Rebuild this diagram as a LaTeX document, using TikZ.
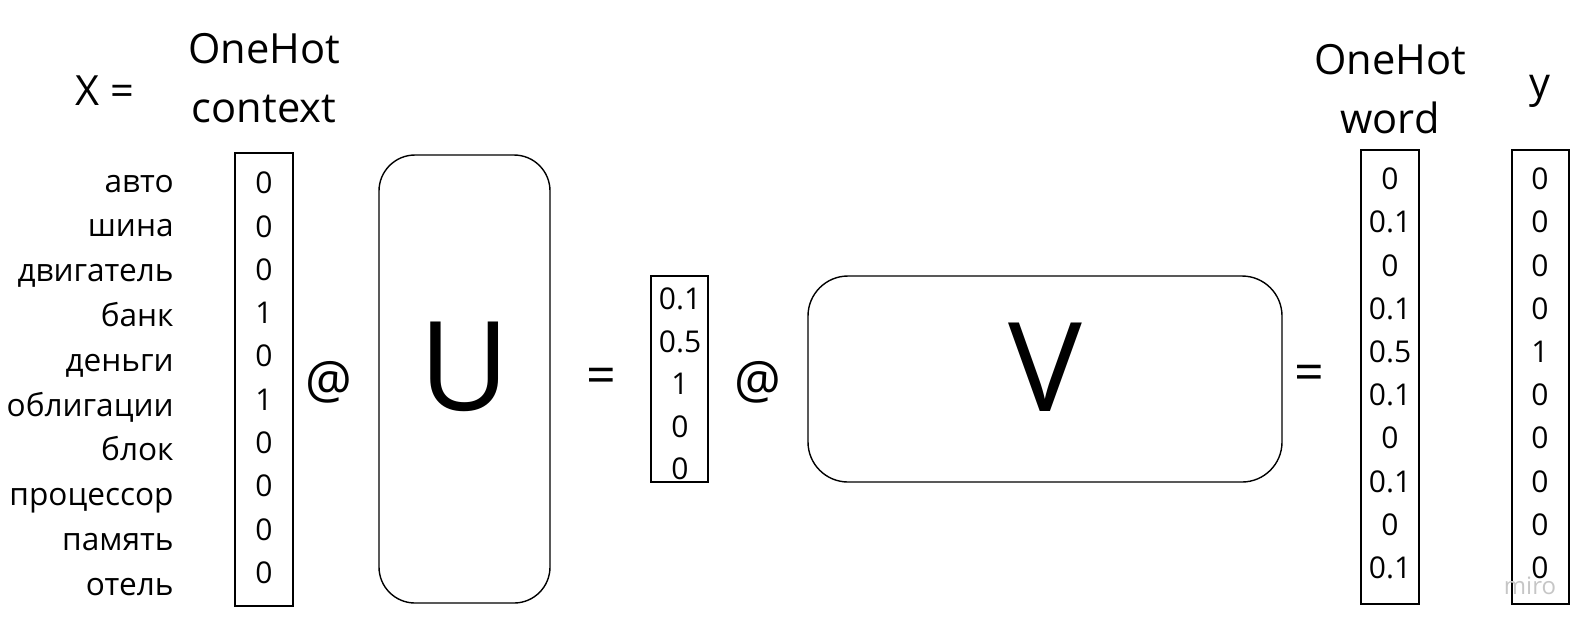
\documentclass[tikz,border=0pt]{standalone}
\usepackage{fontspec}
\setmainfont{Open Sans}
\usetikzlibrary{positioning}

\tikzset{
  vecbox/.style={draw, line width=0.7pt, inner sep=0pt, minimum width=29pt},
  matbox/.style={draw, line width=0.7pt, rounded corners=18pt, inner sep=0pt},
  cell/.style={font=\fontsize{15}{16}\selectfont, inner sep=0pt},
  word/.style={font=\fontsize{15.8}{17}\selectfont, anchor=base east, inner sep=0pt},
  head/.style={font=\fontsize{20.8}{29.5}\selectfont, align=center, inner sep=0pt},
  oper/.style={font=\fontsize{26}{28}\selectfont, inner sep=0pt},
  big/.style={font=\fontsize{62}{64}\selectfont, inner sep=0pt}
}

\begin{document}
\begin{tikzpicture}[x=0.5pt, y=-0.5pt]
  \useasboundingbox (0,0) rectangle (1589,629);

  % headings
  \node[head, anchor=base] (xeq) at (105,105) {X =};
  \node[head, anchor=base] (hctx) at (264,122) {OneHot\\context};
  \node[head, anchor=base] (hword) at (1390,133) {OneHot\\word};
  \node[head, anchor=base] (hy) at (1540,97) {y};

  % context vector with words
  \node[vecbox, minimum height=226.5pt] (xbox) at (264,379.5) {};
  \foreach \w [count=\i from 0] in {авто, шина, двигатель, банк, деньги,
      облигации, блок, процессор, память, отель}
    \node[word] (lbl\i) at (174,192+44.8*\i) {\w};
  \foreach \v [count=\i from 0] in {0,0,0,1,0,1,0,0,0,0}
    \node[cell] (xv\i) at (264,183+43.3*\i) {\v};

  \node[oper] (at1) at (329,382) {@};

  % matrix U
  \node[matbox, minimum width=85.5pt, minimum height=224pt] (ubox) at (464.5,379) {};
  \node[big] (ulbl) at (464.5,367) {U};

  \node[oper] (eq1) at (601,381) {=};

  % hidden vector
  \node[vecbox, minimum width=28.5pt, minimum height=103pt] (hbox) at (679.5,379) {};
  \foreach \v [count=\i from 0] in {0.1,0.5,1,0,0}
    \node[cell] (hv\i) at (680,299+42.5*\i) {\v};

  \node[oper] (at2) at (758,382) {@};

  % matrix V
  \node[matbox, rounded corners=20pt, minimum width=237pt, minimum height=103pt] (vbox) at (1045,379) {};
  \node[big] (vlbl) at (1045,367) {V};

  \node[oper] (eq2) at (1309,378) {=};

  % output vector and target
  \node[vecbox, minimum height=227pt] (wbox) at (1390,377) {};
  \foreach \v [count=\i from 0] in {0,0.1,0,0.1,0.5,0.1,0,0.1,0,0.1}
    \node[cell] (wv\i) at (1390,179+43.2*\i) {\v};

  \node[vecbox, minimum width=28.5pt, minimum height=227pt] (ybox) at (1540.5,377) {};
  \foreach \v [count=\i from 0] in {0,0,0,0,1,0,0,0,0,0}
    \node[cell] (yv\i) at (1540,179+43.2*\i) {\v};

  \node[font=\fontsize{12}{13}\selectfont, text=gray!45, inner sep=0pt] (miro) at (1530,586) {miro};
\end{tikzpicture}
\end{document}
